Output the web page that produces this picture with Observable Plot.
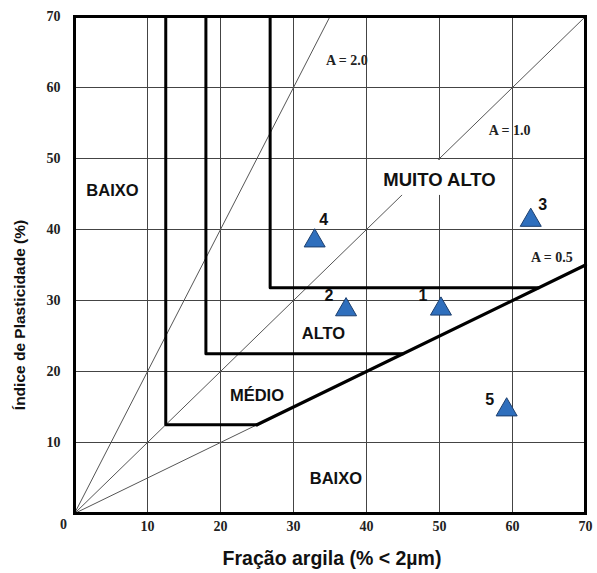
<!DOCTYPE html>
<html>
<head>
<meta charset="utf-8">
<script src="https://cdn.jsdelivr.net/npm/d3@7"></script>
<script src="https://cdn.jsdelivr.net/npm/@observablehq/plot@0.6"></script>
<style>
  html, body { margin: 0; padding: 0; background: #fff; }
  svg { display: block; }
</style>
</head>
<body>
<div id="chart"></div>
<script>
// Samples (argila %, IP %)
const sampleIds = ["1", "2", "3", "4", "5"];
const sampleClay = [50.2, 37.2, 62.5, 32.9, 59.2];
const sampleIP = [28.8, 28.7, 41.3, 38.4, 14.6];
const sampleLabelDx = [-18, -17, 12, 9, -17];
const sampleLabelDy = [-13, -14, -15, -21, -10];

// Activity lines (IP = A * clay)
const activityValues = [2.0, 1.0, 0.5];
const activityLabels = ["A = 2.0", "A = 1.0", "A = 0.5"];
const activityLabelX = [37.3, 59.6, 65.4];
const activityLabelY = [63.8, 54.0, 36.0];

// Class boundaries [clay, IP] vertices
const boundaryMedio = [[12.5, 70], [12.5, 12.5], [25, 12.5]];
const boundaryAlto = [[18, 70], [18, 22.5], [45, 22.5]];
const boundaryMuitoAlto = [[26.8, 70], [26.8, 31.8], [63.6, 31.8]];
const boundaryLower = [[25, 12.5], [70, 35]];

// Region labels
const regionNames = ["BAIXO", "MUITO ALTO", "ALTO", "MÉDIO", "BAIXO"];
const regionX = [5.2, 50, 34.1, 25, 35.8];
const regionY = [45.5, 46.9, 25.3, 16.6, 4.9];
const regionSize = [16.5, 18.5, 16.5, 16.5, 16.5];

const ticks = [10, 20, 30, 40, 50, 60, 70];

const activityLines = activityValues.map(a => {
  const xEnd = Math.min(70, 70 / a);
  return [[0, 0], [xEnd, a * xEnd]];
});
const activityLabelData = activityLabels.map((t, i) => ({t, x: activityLabelX[i], y: activityLabelY[i]}));

const serif = "'Liberation Serif', 'Times New Roman', serif";
const sans = "'Liberation Sans', Arial, sans-serif";

const chart = Plot.plot({
  width: 597,
  height: 573,
  marginLeft: 74,
  marginRight: 12,
  marginTop: 16,
  marginBottom: 60,
  x: {domain: [0, 70]},
  y: {domain: [0, 70]},
  style: {fontFamily: sans, background: "#fff"},
  marks: [
    Plot.gridX(ticks, {stroke: "#444", strokeOpacity: 1, strokeWidth: 1}),
    Plot.gridY(ticks, {stroke: "#444", strokeOpacity: 1, strokeWidth: 1}),
    ...activityLines.map(l => Plot.line(l, {stroke: "#555", strokeWidth: 1})),
    Plot.text(activityLabelData, {x: "x", y: "y", text: "t", fontFamily: serif, fontWeight: "bold", fontSize: 14, fill: "#222"}),
    Plot.line(boundaryMedio, {stroke: "#000", strokeWidth: 3}),
    Plot.line(boundaryAlto, {stroke: "#000", strokeWidth: 3}),
    Plot.line(boundaryMuitoAlto, {stroke: "#000", strokeWidth: 3}),
    Plot.line(boundaryLower, {stroke: "#000", strokeWidth: 3.2}),
    // white label box behind MUITO ALTO
    Plot.rect([regionNames[1]], {x1: 42, x2: 58.5, y1: 44.8, y2: 49.75, fill: "#fff"}),
    ...regionNames.map((t, i) => Plot.text([t], {x: regionX[i], y: regionY[i], fontSize: regionSize[i], fontWeight: "bold", fill: "#111"})),
    Plot.frame({stroke: "#000", strokeWidth: 3}),
    Plot.axisX(ticks, {tickSize: 0, tickPadding: 8, fontFamily: serif, fontWeight: "bold", fontSize: 14, fill: "#222", label: null}),
    Plot.axisY(ticks, {tickSize: 0, tickPadding: 14, fontFamily: serif, fontWeight: "bold", fontSize: 14, fill: "#222", label: null}),
    Plot.text(["0"], {x: 0, y: 0, dx: -11, dy: 11, fontFamily: serif, fontWeight: "bold", fontSize: 14, fill: "#222"}),
    Plot.dot(sampleIds, {x: (d, i) => sampleClay[i], y: (d, i) => sampleIP[i], symbol: "triangle", r: 7.8, fill: "#2f6fbd", stroke: "#1d3f6e", strokeWidth: 1}),
    ...sampleIds.map((id, i) => Plot.text([id], {x: sampleClay[i], y: sampleIP[i], dx: sampleLabelDx[i], dy: sampleLabelDy[i], fontSize: 16, fontWeight: "bold", fill: "#111"})),
    Plot.text(["Fração argila (% < 2µm)"], {frameAnchor: "bottom", textAnchor: "middle", dx: 2, dy: 51, fontSize: 19.5, fontWeight: "bold", fill: "#111"}),
    Plot.text(["Índice de Plasticidade (%)"], {frameAnchor: "left", textAnchor: "middle", dx: -54, dy: 50, rotate: -90, fontSize: 15.5, fontWeight: "bold", fill: "#111"})
  ]
});
document.getElementById("chart").appendChild(chart);
</script>
</body>
</html>
